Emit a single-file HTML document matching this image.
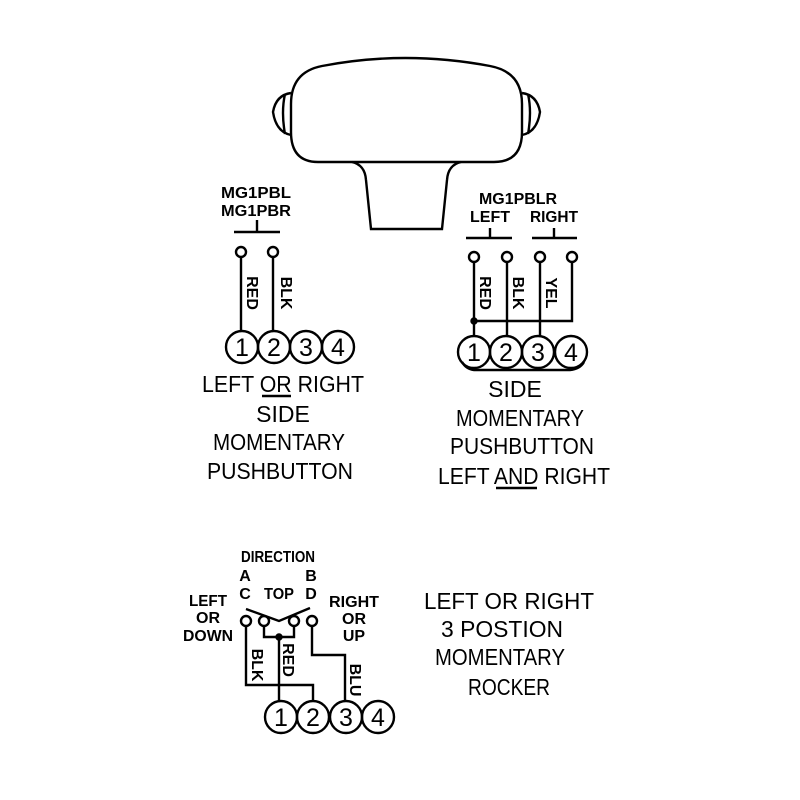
<!DOCTYPE html>
<html><head><meta charset="utf-8"><style>html,body{margin:0;padding:0;background:#fff}svg{display:block}</style></head>
<body>
<svg width="800" height="800" viewBox="0 0 800 800" xmlns="http://www.w3.org/2000/svg" font-family="Liberation Sans, sans-serif" fill="none" stroke="#000" stroke-width="2.4">
<!-- knob -->
<path d="M322,66 Q405,50 490,66 Q522,72 522,104 L522,132 Q522,162 494,162 L318,162 Q291,162 291,132 L291,104 Q291,72 322,66 Z"/>
<path d="M352,162 Q365,165 366,180 L371,229 L442,229 L447,180 Q448,165 461,162"/>
<path d="M291,93 Q276,95 273,112 Q276,132 291,135 M285,94 Q281,112 285,134"/>
<path d="M522,93 Q537,95 540,112 Q537,132 522,135 M528,94 Q532,112 528,134"/>
<g fill="#000" stroke="none" font-weight="bold" font-size="16" text-anchor="middle">
<text x="256" y="198" textLength="70" lengthAdjust="spacingAndGlyphs">MG1PBL</text>
<text x="256" y="216" textLength="70" lengthAdjust="spacingAndGlyphs">MG1PBR</text>
<text x="518" y="204" textLength="78" lengthAdjust="spacingAndGlyphs">MG1PBLR</text>
<text x="490" y="222" textLength="40" lengthAdjust="spacingAndGlyphs">LEFT</text>
<text x="554" y="222" textLength="48" lengthAdjust="spacingAndGlyphs">RIGHT</text>
<text x="278" y="562" textLength="74" lengthAdjust="spacingAndGlyphs">DIRECTION</text>
<text x="245" y="581">A</text><text x="245" y="599">C</text>
<text x="279" y="599" textLength="30" lengthAdjust="spacingAndGlyphs">TOP</text>
<text x="311" y="581">B</text><text x="311" y="599">D</text>
<text x="208" y="606" textLength="38" lengthAdjust="spacingAndGlyphs">LEFT</text>
<text x="208" y="623">OR</text>
<text x="208" y="641" textLength="50" lengthAdjust="spacingAndGlyphs">DOWN</text>
<text x="354" y="607" textLength="50" lengthAdjust="spacingAndGlyphs">RIGHT</text>
<text x="354" y="624">OR</text>
<text x="354" y="641">UP</text>
<text transform="translate(247,293) rotate(90)" font-size="16">RED</text>
<text transform="translate(281,293) rotate(90)" font-size="16">BLK</text>
<text transform="translate(480,293) rotate(90)" font-size="16">RED</text>
<text transform="translate(513,293) rotate(90)" font-size="16">BLK</text>
<text transform="translate(546,293) rotate(90)" font-size="16">YEL</text>
<text transform="translate(252,665) rotate(90)" font-size="16">BLK</text>
<text transform="translate(283,660) rotate(90)" font-size="16">RED</text>
<text transform="translate(350,680) rotate(90)" font-size="16">BLU</text>
</g>
<g fill="#000" stroke="none" font-size="23" text-anchor="middle">
<text x="283" y="392" textLength="162" lengthAdjust="spacingAndGlyphs">LEFT OR RIGHT</text>
<text x="283" y="422">SIDE</text>
<text x="279" y="450" textLength="132" lengthAdjust="spacingAndGlyphs">MOMENTARY</text>
<text x="280" y="479" textLength="146" lengthAdjust="spacingAndGlyphs">PUSHBUTTON</text>
<text x="515" y="397">SIDE</text>
<text x="520" y="426" textLength="128" lengthAdjust="spacingAndGlyphs">MOMENTARY</text>
<text x="522" y="454" textLength="144" lengthAdjust="spacingAndGlyphs">PUSHBUTTON</text>
<text x="524" y="484" textLength="172" lengthAdjust="spacingAndGlyphs">LEFT AND RIGHT</text>
<text x="509" y="609" textLength="170" lengthAdjust="spacingAndGlyphs">LEFT OR RIGHT</text>
<text x="502" y="637" textLength="122" lengthAdjust="spacingAndGlyphs">3 POSTION</text>
<text x="500" y="665" textLength="130" lengthAdjust="spacingAndGlyphs">MOMENTARY</text>
<text x="509" y="695" textLength="82" lengthAdjust="spacingAndGlyphs">ROCKER</text>
<g font-size="25">
<text x="242" y="356">1</text><text x="274" y="356">2</text><text x="306" y="356">3</text><text x="338" y="356">4</text>
<text x="474" y="361">1</text><text x="506" y="361">2</text><text x="538" y="361">3</text><text x="571" y="361">4</text>
<text x="281" y="726">1</text><text x="313" y="726">2</text><text x="346" y="726">3</text><text x="378" y="726">4</text>
</g>
</g>
<path d="M262,396 H291 M496,488 H537"/>
<!-- left diagram -->
<path d="M257,220 V232 M234,232 H280"/>
<circle cx="241" cy="252" r="5"/><circle cx="273" cy="252" r="5"/>
<path d="M241,257 V331 M273,257 V331"/>
<circle cx="242" cy="347" r="16"/><circle cx="274" cy="347" r="16"/><circle cx="306" cy="347" r="16"/><circle cx="338" cy="347" r="16"/>
<!-- right diagram -->
<path d="M490,228 V238 M466,238 H512 M554,228 V238 M532,238 H577"/>
<circle cx="474" cy="257" r="5"/><circle cx="507" cy="257" r="5"/><circle cx="540" cy="257" r="5"/><circle cx="572" cy="257" r="5"/>
<path d="M474,262 V336 M507,262 V336 M540,262 V336 M572,262 V321 H474"/>
<circle cx="474" cy="321" r="2.5" fill="#000"/>
<circle cx="474" cy="352" r="16"/><circle cx="506" cy="352" r="16"/><circle cx="538" cy="352" r="16"/><circle cx="571" cy="352" r="16"/>
<path d="M462,362 Q466,369 474,370 H570 Q580,369 584,362"/>
<!-- bottom diagram -->
<path d="M246,609 L279,621 L310,608"/>
<circle cx="246" cy="621" r="5"/><circle cx="264" cy="621" r="5"/><circle cx="294" cy="621" r="5"/><circle cx="312" cy="621" r="5"/>
<path d="M264,626 V637 H294 V626 M279,637 V701 M246,626 V685 H313 V701 M312,626 V655 H345 V701"/>
<circle cx="279" cy="637" r="2.5" fill="#000"/>
<circle cx="281" cy="717" r="16"/><circle cx="313" cy="717" r="16"/><circle cx="346" cy="717" r="16"/><circle cx="378" cy="717" r="16"/>
</svg>
</body></html>
